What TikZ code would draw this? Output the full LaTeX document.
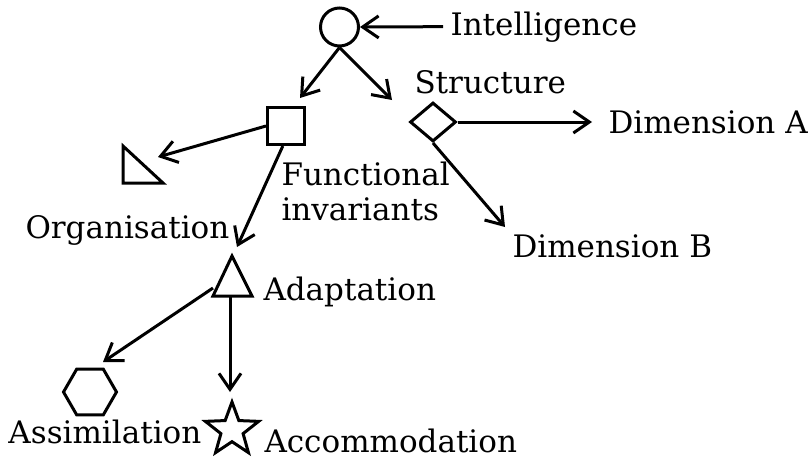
\documentclass[tikz,border=0pt]{standalone}
\usepackage{fontspec}
\setmainfont{DejaVu Serif}
\usetikzlibrary{arrows.meta,shapes.geometric,calc}
\begin{document}
\begin{tikzpicture}[x=1pt,y=-1pt,
  line width=3pt,
  conn/.style={-{Straight Barb[length=16pt,width=22pt,line width=3pt]}},
  shp/.style={draw,inner sep=0pt},
  lbl/.style={anchor=base west,inner sep=0pt,font=\fontsize{31}{35}\selectfont}]
\useasboundingbox (0,0) rectangle (810,461);
% shapes
\node[shp,circle,minimum size=38pt] (circ) at (339.5,27) {};
\node[shp,rectangle,minimum size=37pt] (sq) at (286,126) {};
\node[shp,diamond,minimum width=46pt,minimum height=39pt] (dia) at (433,122) {};
\draw[line join=miter] (123,146) -- (123,183) -- (163,183) -- cycle;
\coordinate (tri1) at (158,157);
\draw[line join=miter] (232,256) -- (213,296) -- (252,296) -- cycle;
\coordinate (tritip) at (237,247);
\coordinate (trileft) at (213,288);
\coordinate (tribase) at (230,296);
\node[shp,regular polygon,regular polygon sides=6,minimum size=53pt] (hex) at (90,392) {};
\node[shp,star,star points=5,star point ratio=2.4,minimum size=56pt] (star) at (232,430) {};
\coordinate (hextip) at (103,362);
\coordinate (startip) at (230,392);
\coordinate (dimAtip) at (592,122);
\coordinate (dimBtip) at (505,227);
% labels
\node[lbl] (intel) at (449,35) {Intelligence};
\node[lbl] (struct) at (413,93) {Structure};
\node[lbl] (dimA) at (607,133) {Dimension A};
\node[lbl] (dimB) at (511,257) {Dimension B};
\node[lbl] (func) at (280,185) {Functional};
\node[lbl] (inv) at (280,220) {invariants};
\node[lbl] (org) at (24,238) {Organisation};
\node[lbl] (adapt) at (262,300) {Adaptation};
\node[lbl] (assim) at (7,443) {Assimilation};
\node[lbl,text depth=0pt] (accom) at (263,452) {Accommodation};
% connectors
\draw[conn] ($(intel.west)+(-6,0)$) -- (circ.east);
\draw[conn] (circ.south) -- (300,98);
\draw[conn] (circ.south) -- (392,100);
\draw[conn] (sq.west) -- (tri1);
\draw[conn] ($(sq.south west)!0.42!(sq.south east)$) -- (tritip);
\draw[conn] (dia.east) -- (dimAtip);
\draw[conn] (dia.south) -- (dimBtip);
\draw[conn] (trileft) -- (hextip);
\draw[conn] (tribase) -- (startip);
\end{tikzpicture}
\end{document}
